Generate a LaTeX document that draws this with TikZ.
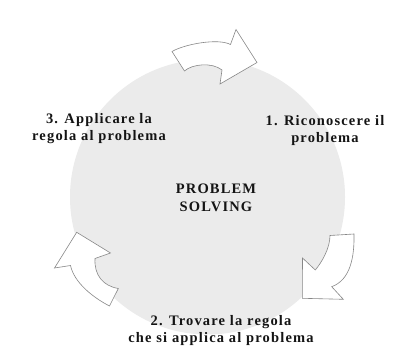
\documentclass[tikz,border=0pt]{standalone}
\usepackage{fontspec}
\newfontfamily\lblfont{Liberation Serif}[LetterSpace=8]
\definecolor{discgray}{RGB}{235,235,235}
\definecolor{arrowline}{RGB}{135,135,135}
\definecolor{txt}{RGB}{20,20,20}
\begin{document}
\begin{tikzpicture}[x=1pt,y=-1pt,
  lbl/.style={font=\lblfont\bfseries\fontsize{14.5}{17.5}\selectfont, align=center, inner sep=0pt, text=txt},
  blockarrow/.style={fill=white, draw=arrowline, line width=0.6pt, line join=miter}]
\useasboundingbox (0,0) rectangle (398,347);
\fill[white] (0,0) rectangle (398,347);
\node[circle, fill=discgray, minimum size=275pt, inner sep=0pt] (disc) at (207.5,197) {};
% top arrow
\draw[blockarrow] (172,51.5) .. controls (185,44) and (218,38) .. (230.5,44.5)
  -- (236,29.5) -- (257,62.5) -- (220,84) -- (222,70)
  .. controls (212,62) and (192,64) .. (184.5,71) -- cycle;
% right arrow
\draw[blockarrow] (354,234) .. controls (354.5,258) and (350,280) .. (331.7,286.7)
  -- (343.3,299.3) -- (302.3,298.3) -- (302.5,258) -- (315.3,270)
  .. controls (322,262) and (330,248) .. (330,235.5) -- cycle;
% left arrow
\draw[blockarrow] (109.5,306) .. controls (92,297) and (74,282) .. (70.5,265.5)
  -- (54.5,268) -- (76.7,232.3) -- (110.5,253) -- (95,258.5)
  .. controls (94,275) and (103,286) .. (118.3,288.5) -- cycle;
\node[lbl] (center) at (216,198) {PROBLEM\\SOLVING};
\node[lbl] (step1) at (325,130.3) {1. Riconoscere il\\problema};
\node[lbl] (step2) at (221,330.3) {2. Trovare la regola\\che si applica al problema};
\node[lbl] (step3) at (99,128.5) {3. Applicare la\\regola al problema};
\end{tikzpicture}
\end{document}
